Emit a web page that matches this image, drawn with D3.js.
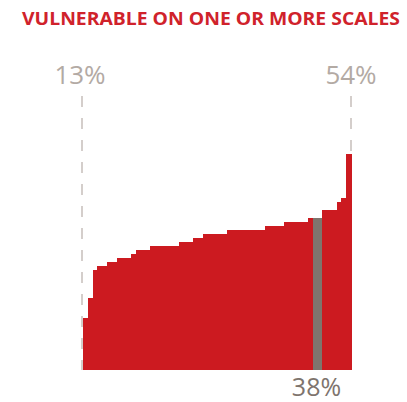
<!DOCTYPE html>
<html>
<head>
<meta charset="utf-8">
<script src="https://cdn.jsdelivr.net/npm/d3@7"></script>
<style>
  body { margin: 0; background: #fff; }
</style>
</head>
<body>
<script>
// share vulnerable, one bar per unit, sorted low to high
var values = [13, 18, 25, 26, 26, 27, 27, 28, 28, 28, 29, 30, 30, 30,
  31, 31, 31, 31, 31, 31, 32, 32, 32, 33, 33, 34, 34, 34, 34, 34,
  35, 35, 35, 35, 35, 35, 35, 35, 36, 36, 36, 36, 37, 37, 37, 37, 37,
  38, 38, 38, 40, 40, 40, 42, 43, 54];
// bars drawn in grey (the highlighted value)
var highlight = [48, 49];
var minLabel = "13%", maxLabel = "54%", midLabel = "38%";
var title = "VULNERABLE ON ONE OR MORE SCALES";

var svgWidth = 407, svgHeight = 402;

var svg = d3.select("body")
  .append("svg")
  .attr("width", svgWidth)
  .attr("height", svgHeight);

var x = d3.scaleBand()
  .domain(d3.range(values.length))
  .range([83, 351])
  .padding(0);

// 4px per percentage point, baseline at 370
var y = d3.scaleLinear()
  .domain([0, 54])
  .range([370, 154]);

// title
svg.append("text")
  .attr("x", 211)
  .attr("y", 25)
  .attr("text-anchor", "middle")
  .attr("font-family", "Open Sans")
  .attr("font-weight", "bold")
  .attr("font-size", "18px")
  .attr("textLength", 378)
  .attr("lengthAdjust", "spacingAndGlyphs")
  .attr("fill", "#d0222b")
  .text(title);

// dashed guides at both ends
[82, 351].forEach(function(d) {
  svg.append("line")
    .attr("x1", d).attr("x2", d)
    .attr("y1", 96).attr("y2", 370)
    .attr("stroke", "#c6bfba")
    .attr("stroke-width", 1.5)
    .attr("stroke-dasharray", "11,11");
});

svg.selectAll(".bar")
  .data(values)
  .enter()
  .append("rect")
    .attr("class", "bar")
    .attr("x", (d, i) => x(i))
    .attr("y", d => y(d))
    .attr("width", x.bandwidth() + 0.6)
    .attr("height", d => y(0) - y(d))
    .attr("shape-rendering", "crispEdges")
    .attr("fill", (d, i) => highlight.indexOf(i) >= 0 ? "#7e746d" : "#cc1a20");

svg.append("text")
  .attr("x", 80).attr("y", 84)
  .attr("text-anchor", "middle")
  .attr("font-family", "Open Sans")
  .attr("font-size", "26px")
  .attr("fill", "#b3aaa4")
  .text(minLabel);

svg.append("text")
  .attr("x", 351).attr("y", 84)
  .attr("text-anchor", "middle")
  .attr("font-family", "Open Sans")
  .attr("font-size", "26px")
  .attr("fill", "#b3aaa4")
  .text(maxLabel);

var midX = (x(highlight[0]) + x(highlight[highlight.length - 1]) + x.bandwidth()) / 2;
svg.append("text")
  .attr("x", midX - 1).attr("y", 396)
  .attr("text-anchor", "middle")
  .attr("font-family", "Open Sans")
  .attr("font-size", "25px")
  .attr("fill", "#7e746d")
  .text(midLabel);
</script>
</body>
</html>
